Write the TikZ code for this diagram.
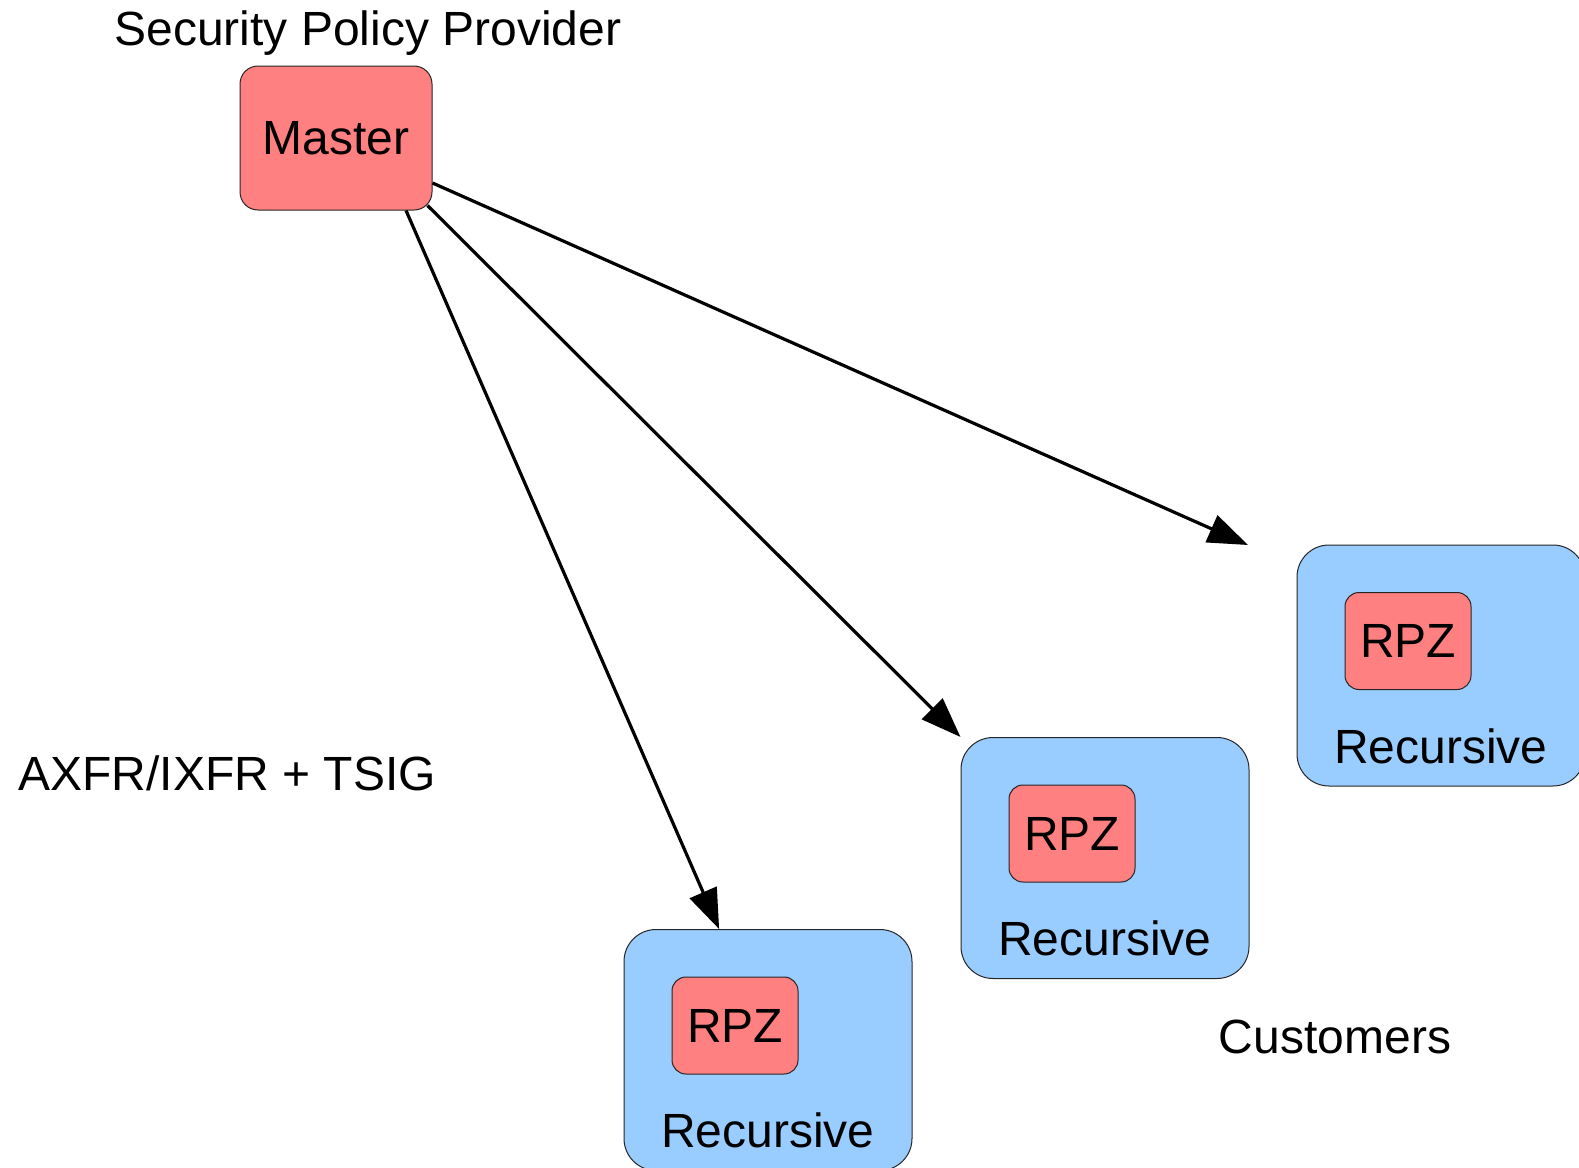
\documentclass[tikz,border=0pt]{standalone}
\usepackage{fontspec}
\setmainfont{Liberation Sans}
\usepackage{tikz}
\usetikzlibrary{arrows.meta}
\usetikzlibrary{calc}
\usepackage{xcolor}
\definecolor{ColRed}{RGB}{255,128,128}
\definecolor{ColBlue}{RGB}{153,204,255}
\tikzstyle{BoxRed}=[rectangle,rounded corners=9pt,draw=black!85,fill=ColRed,line width=0.5pt,
inner sep=0pt,font=\fontsize{24}{28}\selectfont]
\tikzstyle{NodeMaster}=[BoxRed,minimum width=96pt,minimum height=72pt]
\tikzstyle{NodeRPZ}=[BoxRed,rounded corners=7pt,minimum width=63pt,minimum height=48.5pt]
\tikzstyle{NodeRecursive}=[rectangle,rounded corners=16pt,draw=black!85,fill=ColBlue,line width=0.5pt,
minimum width=144pt,minimum height=120.5pt]
\tikzstyle{TextLabel}=[inner sep=0pt,anchor=base,font=\fontsize{24}{28}\selectfont]
\tikzstyle{EdgeXfr}=[-{Triangle[length=20pt,width=14.5pt]},line width=1.6pt]

\begin{document}
\begin{tikzpicture}[x=0.5pt,y=-0.5pt]
        \useasboundingbox(0,0)rectangle(1579,1167);
        \node[NodeMaster](master)at(336,138){Master};
        \node[NodeRecursive](rec1)at(768,1050){};
        \node[NodeRecursive](rec2)at(1105,858){};
        \node[NodeRecursive](rec3)at(1441,665.5){};
        \node[NodeRPZ](rpz1)at(735,1025.5){RPZ};
        \node[NodeRPZ](rpz2)at(1072,833.5){RPZ};
        \node[NodeRPZ](rpz3)at(1408,641){RPZ};
        \node[TextLabel](rlab1)at(768,1147.5){Recursive};
        \node[TextLabel](rlab2)at(1105,955.5){Recursive};
        \node[TextLabel](rlab3)at(1441,763){Recursive};
        \node[TextLabel](provider)at(368,46){Security Policy Provider};
        \node[TextLabel](xfr)at(227,790){AXFR/IXFR + TSIG};
        \node[TextLabel](customers)at(1335,1053){Customers};
        \coordinate(tip3)at(1248,545);
        \draw[EdgeXfr](master.-46)--(rec1.112);
        \draw[EdgeXfr]($(master.south east)+(-5,-5)$)--(rec2.north west);
        \draw[EdgeXfr](master.-25)--(tip3);
    \end{tikzpicture}
\end{document}
